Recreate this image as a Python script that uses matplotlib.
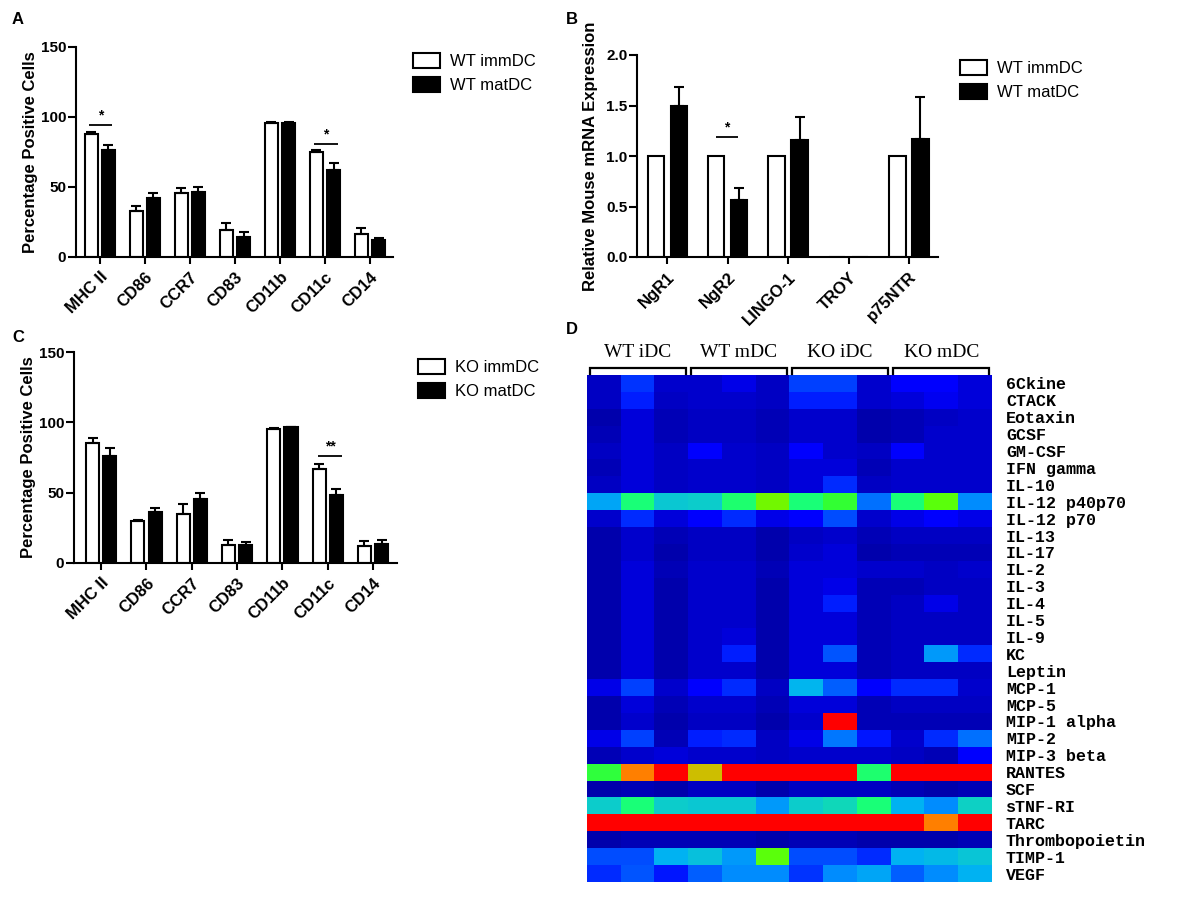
import matplotlib
matplotlib.use('Agg')
import matplotlib.pyplot as plt
import numpy as np
from matplotlib.colors import LinearSegmentedColormap

plt.rcParams['font.family'] = ['Liberation Sans', 'DejaVu Sans']

# ---------------- data ----------------
markers = ['MHC II', 'CD86', 'CCR7', 'CD83', 'CD11b', 'CD11c', 'CD14']
wt_imm = [88, 33, 46, 19.5, 96, 75, 16.5]
wt_imm_err = [1.0, 3.5, 3.3, 4.8, 0.5, 1.2, 4.3]
wt_mat = [76.5, 42.5, 46.5, 14.5, 96, 62.5, 12]
wt_mat_err = [3.3, 3.4, 3.6, 3.4, 0.5, 4.3, 1.9]
wt_sig = [(0, 94, '*'), (5, 81, '*')]

genes = ['NgR1', 'NgR2', 'LINGO-1', 'TROY', 'p75NTR']
rel_imm = [1.0, 1.0, 1.0, 0.0, 1.0]
rel_mat = [1.50, 0.56, 1.16, 0.0, 1.17]
rel_mat_err = [0.18, 0.12, 0.23, 0.0, 0.41]
rel_sig = [(1, 1.19, '*')]

ko_imm = [85, 30, 34.7, 13, 95, 67, 12.3]
ko_imm_err = [3.6, 0.7, 7.3, 3.0, 0.8, 3.1, 3.1]
ko_mat = [76, 36, 45.8, 13, 96.4, 48, 13.5]
ko_mat_err = [6.0, 3.1, 4.2, 1.9, 0.3, 4.7, 2.8]
ko_sig = [(5, 76, '**')]

heat_groups = ['WT iDC', 'WT mDC', 'KO iDC', 'KO mDC']
heat_rows = ['6Ckine', 'CTACK', 'Eotaxin', 'GCSF', 'GM-CSF', 'IFN gamma', 'IL-10',
             'IL-12 p40p70', 'IL-12 p70', 'IL-13', 'IL-17', 'IL-2', 'IL-3', 'IL-4',
             'IL-5', 'IL-9', 'KC', 'Leptin', 'MCP-1', 'MCP-5', 'MIP-1 alpha', 'MIP-2',
             'MIP-3 beta', 'RANTES', 'SCF', 'sTNF-RI', 'TARC', 'Thrombopoietin',
             'TIMP-1', 'VEGF']
heat_values = [
    [0.06, 0.16, 0.07, 0.07, 0.09, 0.06, 0.17, 0.17, 0.07, 0.11, 0.11, 0.08],
    [0.06, 0.14, 0.06, 0.07, 0.07, 0.06, 0.14, 0.14, 0.07, 0.08, 0.10, 0.08],
    [0.04, 0.08, 0.05, 0.06, 0.06, 0.05, 0.07, 0.07, 0.04, 0.05, 0.06, 0.07],
    [0.05, 0.08, 0.05, 0.06, 0.06, 0.05, 0.07, 0.07, 0.04, 0.05, 0.07, 0.07],
    [0.06, 0.08, 0.06, 0.11, 0.07, 0.06, 0.11, 0.07, 0.06, 0.11, 0.07, 0.07],
    [0.05, 0.08, 0.06, 0.07, 0.07, 0.06, 0.08, 0.08, 0.05, 0.07, 0.07, 0.07],
    [0.06, 0.08, 0.06, 0.07, 0.07, 0.06, 0.08, 0.15, 0.06, 0.07, 0.07, 0.07],
    [0.29, 0.47, 0.37, 0.38, 0.48, 0.59, 0.47, 0.53, 0.22, 0.47, 0.57, 0.25],
    [0.07, 0.15, 0.08, 0.11, 0.15, 0.09, 0.11, 0.18, 0.07, 0.09, 0.11, 0.09],
    [0.04, 0.07, 0.05, 0.06, 0.06, 0.04, 0.06, 0.07, 0.05, 0.06, 0.06, 0.06],
    [0.04, 0.07, 0.04, 0.06, 0.06, 0.04, 0.07, 0.08, 0.04, 0.05, 0.05, 0.05],
    [0.04, 0.08, 0.05, 0.07, 0.07, 0.05, 0.08, 0.08, 0.07, 0.07, 0.06, 0.07],
    [0.04, 0.08, 0.04, 0.07, 0.07, 0.04, 0.08, 0.09, 0.05, 0.05, 0.06, 0.06],
    [0.04, 0.08, 0.04, 0.07, 0.07, 0.04, 0.08, 0.14, 0.05, 0.06, 0.09, 0.06],
    [0.04, 0.08, 0.04, 0.07, 0.07, 0.04, 0.08, 0.08, 0.05, 0.06, 0.06, 0.06],
    [0.04, 0.08, 0.04, 0.07, 0.08, 0.04, 0.08, 0.08, 0.05, 0.06, 0.06, 0.06],
    [0.04, 0.08, 0.04, 0.07, 0.14, 0.04, 0.08, 0.19, 0.05, 0.06, 0.27, 0.15],
    [0.04, 0.08, 0.04, 0.07, 0.07, 0.04, 0.08, 0.08, 0.05, 0.06, 0.06, 0.06],
    [0.09, 0.17, 0.07, 0.11, 0.15, 0.06, 0.32, 0.20, 0.11, 0.15, 0.15, 0.07],
    [0.04, 0.08, 0.05, 0.07, 0.07, 0.05, 0.08, 0.08, 0.05, 0.06, 0.06, 0.06],
    [0.04, 0.07, 0.04, 0.06, 0.06, 0.04, 0.07, 0.92, 0.05, 0.05, 0.05, 0.05],
    [0.09, 0.17, 0.05, 0.14, 0.15, 0.06, 0.09, 0.23, 0.13, 0.07, 0.15, 0.22],
    [0.05, 0.07, 0.08, 0.07, 0.07, 0.06, 0.07, 0.07, 0.07, 0.06, 0.05, 0.11],
    [0.52, 0.80, 0.92, 0.68, 0.92, 0.92, 0.92, 0.92, 0.48, 0.92, 0.92, 0.92],
    [0.04, 0.05, 0.04, 0.06, 0.06, 0.04, 0.06, 0.06, 0.06, 0.05, 0.04, 0.05],
    [0.38, 0.47, 0.38, 0.37, 0.37, 0.27, 0.38, 0.40, 0.47, 0.31, 0.25, 0.39],
    [0.92, 0.92, 0.92, 0.92, 0.92, 0.92, 0.92, 0.92, 0.92, 0.92, 0.80, 0.92],
    [0.04, 0.05, 0.05, 0.05, 0.05, 0.04, 0.05, 0.05, 0.04, 0.04, 0.04, 0.05],
    [0.18, 0.18, 0.31, 0.35, 0.27, 0.57, 0.18, 0.18, 0.15, 0.31, 0.33, 0.36],
    [0.15, 0.19, 0.13, 0.20, 0.25, 0.25, 0.16, 0.25, 0.29, 0.20, 0.25, 0.31],
]

# ---------------- figure ----------------
W, H = 1200, 900
fig = plt.figure(figsize=(12, 9), dpi=100)


def axes_px(l, t, r, b):
    return fig.add_axes([l / W, 1 - b / H, (r - l) / W, (b - t) / H])


LW = 1.5
FS = 12


def bar_panel(ax, cats, a, aerr, b, berr, labels, ylim, yticks, yfmt, ylabel,
              sigs, width, off, sig_span, leg_xy, xlim, lpad):
    x = np.arange(len(cats))
    h1 = ax.bar(x - off, a, width, color='white', edgecolor='black', linewidth=LW, zorder=2)
    h2 = ax.bar(x + off, b, width, color='black', edgecolor='black', linewidth=LW, zorder=2)
    if aerr is not None:
        ae = np.array(aerr)
        ax.errorbar(x - off, a, yerr=[np.zeros_like(ae), ae], fmt='none', ecolor='black',
                    elinewidth=LW, capsize=3.5, capthick=LW, zorder=3)
    be = np.array(berr)
    m = be > 0
    ax.errorbar((x + off)[m], np.array(b)[m], yerr=[np.zeros(m.sum()), be[m]], fmt='none',
                ecolor='black', elinewidth=LW, capsize=3.5, capthick=LW, zorder=3)
    for (i, yv, s) in sigs:
        ax.plot([i + sig_span[0], i + sig_span[1]], [yv, yv], color='black', lw=1.3,
                solid_capstyle='butt', clip_on=False)
        ax.text(i + (sig_span[0] + sig_span[1]) / 2, yv + (ylim[1] - ylim[0]) * 0.012, s,
                ha='center', va='bottom', fontsize=10, fontweight='bold')
    ax.set_xlim(*xlim)
    ax.set_ylim(*ylim)
    ax.set_yticks(yticks)
    ax.set_yticklabels([yfmt.format(v) for v in yticks], fontsize=11, fontweight='bold')
    ax.set_xticks(x)
    ax.set_xticklabels(cats, rotation=45, ha='right', rotation_mode='anchor',
                       fontsize=FS, fontweight='bold')
    ax.set_ylabel(ylabel, fontsize=FS, fontweight='bold', labelpad=lpad)
    for sp in ['top', 'right']:
        ax.spines[sp].set_visible(False)
    for sp in ['left', 'bottom']:
        ax.spines[sp].set_linewidth(LW)
    ax.tick_params(axis='y', length=6, width=LW, direction='out', pad=1)
    ax.tick_params(axis='x', length=5, width=LW, direction='out', pad=4)
    ax.legend([h1, h2], labels, loc='upper left', bbox_to_anchor=(leg_xy[0] / W, 1 - leg_xy[1] / H),
              bbox_transform=fig.transFigure, frameon=False, borderaxespad=0, borderpad=0,
              handlelength=1.6, handleheight=1.0, handletextpad=0.6, labelspacing=0.45,
              fontsize=FS)
    return ax


# Panel A
axA = axes_px(76, 47, 393, 257)
bar_panel(axA, markers, wt_imm, wt_imm_err, wt_mat, wt_mat_err, ['WT immDC', 'WT matDC'],
          (0, 150), [0, 50, 100, 150], '{:.0f}', 'Percentage Positive Cells',
          wt_sig, 0.29, 0.19, (-0.25, 0.28), (413, 53), (-0.53, 6.51), 2)

# Panel B
axB = axes_px(637, 55, 938, 257)
bar_panel(axB, genes, rel_imm, None, rel_mat, rel_mat_err, ['WT immDC', 'WT matDC'],
          (0, 2.0), [0.0, 0.5, 1.0, 1.5, 2.0], '{:.1f}', 'Relative Mouse mRNA Expression',
          rel_sig, 0.27, 0.19, (-0.19, 0.17), (960, 60), (-0.5, 4.48), 6)

# Panel C
axC = axes_px(74, 352, 397, 563)
bar_panel(axC, markers, ko_imm, ko_imm_err, ko_mat, ko_mat_err, ['KO immDC', 'KO matDC'],
          (0, 150), [0, 50, 100, 150], '{:.0f}', 'Percentage Positive Cells',
          ko_sig, 0.29, 0.19, (-0.22, 0.32), (418, 359), (-0.6, 6.53), 2)

# Panel D heatmap
heat_cmap = LinearSegmentedColormap.from_list('heat', [
    (0.00, (0.0, 0.0, 0.50)),
    (0.11, (0.0, 0.0, 1.00)),
    (0.18, (0.0, 0.30, 1.00)),
    (0.25, (0.0, 0.55, 1.00)),
    (0.31, (0.0, 0.70, 0.95)),
    (0.38, (0.05, 0.80, 0.80)),
    (0.47, (0.10, 1.00, 0.47)),
    (0.53, (0.20, 1.00, 0.20)),
    (0.58, (0.40, 1.00, 0.00)),
    (0.68, (0.80, 0.75, 0.00)),
    (0.80, (1.00, 0.50, 0.00)),
    (0.90, (1.00, 0.00, 0.00)),
    (1.00, (1.00, 0.00, 0.00)),
])
axD = axes_px(587, 375, 992, 882)
hv = np.array(heat_values)
axD.imshow(hv, cmap=heat_cmap, vmin=0, vmax=1, aspect='auto', interpolation='nearest')
axD.set_xticks([])
axD.set_yticks(np.arange(len(heat_rows)))
axD.yaxis.tick_right()
axD.set_yticklabels(heat_rows, fontfamily='Liberation Mono', fontweight='bold', fontsize=12)
axD.tick_params(axis='y', length=0, pad=10)
for sp in axD.spines.values():
    sp.set_visible(False)
ncols = hv.shape[1]
per = ncols // len(heat_groups)
for g, name in enumerate(heat_groups):
    x0 = g * per - 0.5 + 0.08
    x1 = (g + 1) * per - 0.5 - 0.08
    axD.plot([x0, x0, x1, x1], [-0.55, -0.92, -0.92, -0.55], color='black', lw=1.6,
             clip_on=False, solid_joinstyle='miter')
    axD.text((x0 + x1) / 2, -1.85, name, ha='center', va='center', fontsize=14,
             fontfamily='Liberation Serif')
axD.set_xlim(-0.5, ncols - 0.5)
axD.set_ylim(len(heat_rows) - 0.5, -0.5)

# Panel letters
for lab, (px, py) in {'A': (12, 20), 'B': (566, 20), 'C': (12, 338), 'D': (566, 330)}.items():
    fig.text(px / W, 1 - py / H, lab, fontsize=12, fontweight='bold', ha='left', va='center')

fig.savefig('out.png', dpi=100)
